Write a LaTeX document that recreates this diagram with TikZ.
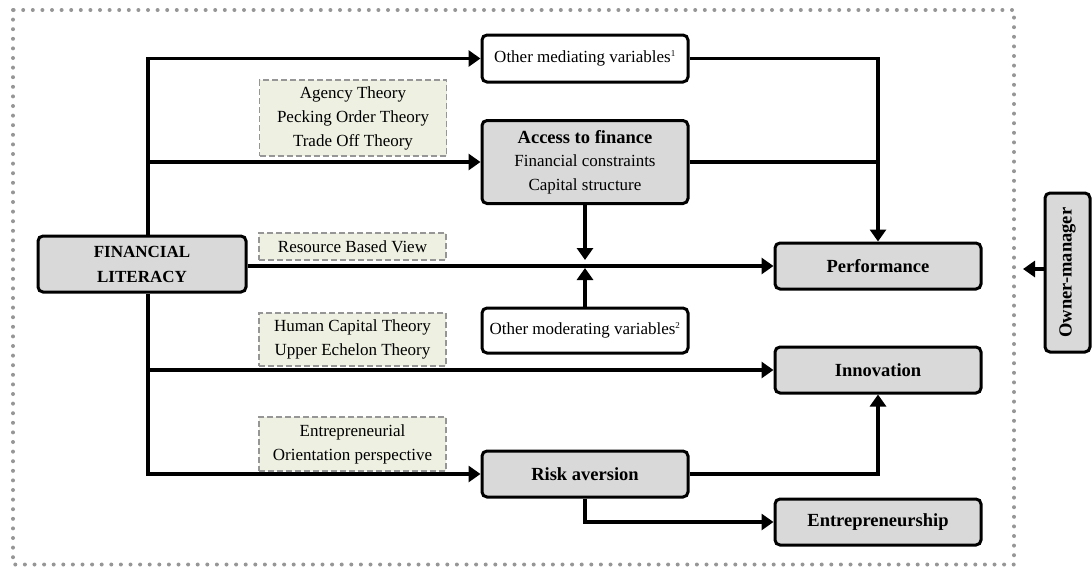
\documentclass[tikz,border=0pt]{standalone}
\usepackage{fontspec}
\setmainfont{Liberation Serif}
\usetikzlibrary{arrows.meta}
\definecolor{boxgray}{RGB}{217,217,217}
\definecolor{thfill}{RGB}{238,240,226}
\definecolor{thline}{RGB}{150,150,150}
\definecolor{dotgray}{RGB}{150,150,150}
\begin{document}
\begin{tikzpicture}[x=1pt,y=-1pt,
  mainbox/.style={draw, line width=3pt, rounded corners=5pt, fill=boxgray, inner sep=0pt, align=center, font=\fontsize{18.5}{24}\selectfont\bfseries},
  whitebox/.style={mainbox, fill=white, font=\fontsize{17}{24}\selectfont},
  theory/.style={draw=thline, dash pattern=on 6pt off 3pt, line width=1.5pt, fill=thfill, inner sep=0pt, align=center, font=\fontsize{17}{24}\selectfont, minimum width=187pt},
  conn/.style={line width=3.3pt},
  arr/.style={conn, -{Triangle[length=12pt,width=16pt]}},
]
\useasboundingbox (0,0) rectangle (1092,566);
\draw[dotgray, line width=4pt, line cap=round, dash pattern=on 0pt off 9.6pt] (13,10) rectangle (1014,564.5);

% main nodes
\node[mainbox, font=\fontsize{17}{25}\selectfont\bfseries, minimum width=208pt, minimum height=56pt] (fl) at (142,264) {FINANCIAL\\LITERACY};
\node[whitebox, minimum width=206pt, minimum height=47pt] (med) at (585,58.5) {Other mediating variables\textsuperscript{\fontsize{9}{9}\selectfont 1}};
\node[mainbox, font=\fontsize{17}{23.5}\selectfont, minimum width=206pt, minimum height=83pt] (acc) at (585,162) {{\fontsize{18.5}{23.5}\selectfont\bfseries Access to finance}\\Financial constraints\\Capital structure};
\node[whitebox, minimum width=206pt, minimum height=45pt] (mod) at (585,330.5) {Other moderating variables\textsuperscript{\fontsize{9}{9}\selectfont 2}};
\node[mainbox, minimum width=206pt, minimum height=46pt] (risk) at (585,474) {Risk aversion};
\node[mainbox, minimum width=206pt, minimum height=46pt] (perf) at (878,266) {Performance};
\node[mainbox, minimum width=206pt, minimum height=46pt] (inn) at (878,370) {Innovation};
\node[mainbox, minimum width=206pt, minimum height=46pt] (ent) at (878,522) {Entrepreneurship};
\node[mainbox, minimum width=45pt, minimum height=159pt] (own) at (1067.5,272.5) {\rotatebox{90}{Owner-manager}};

% theory boxes
\node[theory, minimum height=76pt] (th1) at (353,118) {Agency Theory\\Pecking Order Theory\\Trade Off Theory};
\node[theory, minimum height=27pt] (th2) at (352.5,246.5) {Resource Based View};
\node[theory, minimum height=53pt] (th3) at (352.5,339.5) {Human Capital Theory\\Upper Echelon Theory};
\node[theory, minimum height=54pt] (th4) at (352.5,444) {Entrepreneurial\\Orientation perspective};

% helper coordinates
\coordinate (tk) at (148,0);
\coordinate (j) at (fl.east -| acc.south);
\coordinate (ownTip) at (1023,269);

% connectors
\draw[arr] (fl.north -| tk) |- (med.west);
\draw[arr] (tk |- acc.west) -- (acc.west);
\draw[arr] (tk |- inn.west) -- (inn.west);
\draw[arr] (fl.south -| tk) |- (risk.west);
\draw[arr] (fl.east |- perf.west) -- (perf.west);
\draw[arr] (acc.south) -- ([yshift=4pt]j);
\draw[arr] (mod.north) -- ([yshift=-4pt]j);
\draw[arr] (med.east) -| (perf.north);
\draw[conn] (acc.east) -- (acc.east -| perf.north);
\draw[arr] (risk.east) -| (inn.south);
\draw[arr] (risk.south) |- (ent.west);
\draw[arr] (own.west |- ownTip) -- (ownTip);
\end{tikzpicture}
\end{document}
